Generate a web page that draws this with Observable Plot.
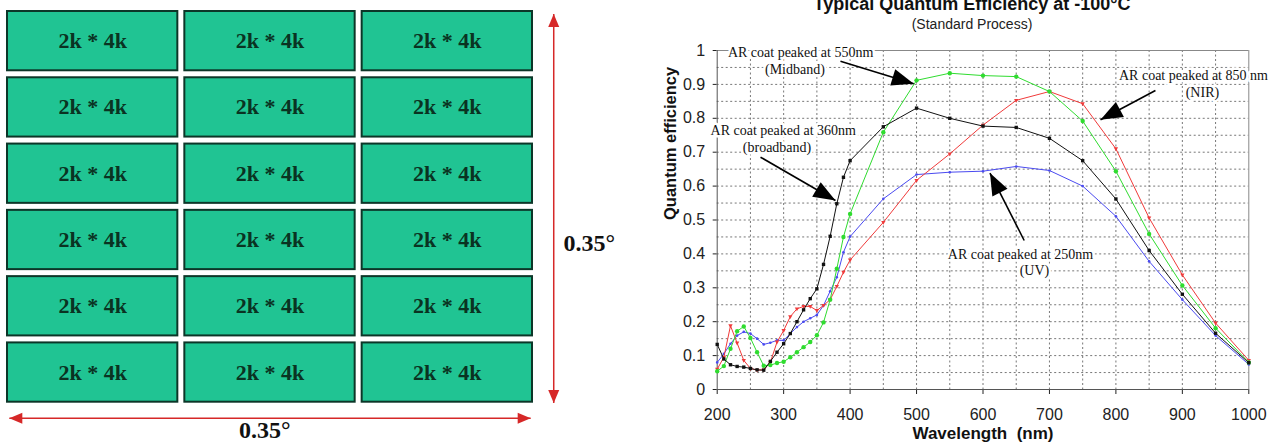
<!DOCTYPE html>
<html><head><meta charset="utf-8">
<script src="https://cdn.jsdelivr.net/npm/d3@7"></script>
<script src="https://cdn.jsdelivr.net/npm/@observablehq/plot@0.6"></script>
<style>
html,body{margin:0;padding:0;background:#fff;}
#wrap{position:relative;width:1277px;height:445px;overflow:hidden;background:#fff;}
#left{position:absolute;left:0;top:0;}
#right{position:absolute;left:640px;top:0;}
#right g[aria-label="x-axis tick label"], #right g[aria-label="y-axis tick label"]{font-size:16px;}
</style></head><body><div id="wrap"><div id="left"></div><div id="right"></div></div>
<script>
// ---------- Left panel data ----------
const mosaicCols = [0, 1, 2];
const mosaicRows = [0, 1, 2, 3, 4, 5];
const chipLabel = "2k * 4k";
const fieldLabel = "0.35°";

// ---------- Right panel data ----------
const wavelengths = [200,210,220,230,240,250,260,270,280,290,300,310,320,330,340,350,360,370,380,390,400,
  450,500,550,600,650,700,750,800,850,900,950,1000];
const qeBroadband = [0.133,0.09,0.073,0.068,0.066,0.062,0.058,0.057,0.083,0.11,0.135,0.165,0.2,0.235,0.268,0.297,0.369,0.452,0.548,0.626,0.675,
  0.775,0.83,0.80,0.777,0.773,0.741,0.675,0.562,0.41,0.281,0.166,0.079];
const qeMidband = [0.054,0.069,0.12,0.172,0.186,0.152,0.11,0.07,0.072,0.078,0.082,0.095,0.11,0.125,0.14,0.16,0.198,0.265,0.356,0.45,0.518,
  0.759,0.912,0.933,0.926,0.923,0.879,0.792,0.644,0.459,0.307,0.181,0.08];
const qeNIR = [0.06,0.095,0.188,0.137,0.086,0.062,0.057,0.058,0.08,0.14,0.174,0.215,0.238,0.245,0.245,0.233,0.248,0.265,0.304,0.346,0.382,
  0.493,0.617,0.695,0.78,0.853,0.879,0.843,0.71,0.506,0.338,0.196,0.086];
const qeUV = [0.08,0.105,0.135,0.159,0.17,0.165,0.15,0.133,0.138,0.145,0.145,0.165,0.184,0.2,0.21,0.22,0.248,0.29,0.331,0.405,0.451,
  0.5625,0.634,0.641,0.644,0.658,0.646,0.6,0.511,0.378,0.265,0.159,0.074];
const xTicks = [200,300,400,500,600,700,800,900,1000];
const xTickLabels = ["200","300","400","500","600","700","800","900","1000"];
const yTicks = [0,0.1,0.2,0.3,0.4,0.5,0.6,0.7,0.8,0.9,1];
const yTickLabels = ["0","0.1","0.2","0.3","0.4","0.5","0.6","0.7","0.8","0.9","1"];
const chartTitle = "Typical Quantum Efficiency at -100°C";
const chartSubtitle = "(Standard Process)";
const xLabel = "Wavelength\u00a0\u00a0(nm)";
const yLabel = "Quantum efficiency";
const annotations = [
  {lines: ["AR coat peaked at 550nm", "(Midband)"]},
  {lines: ["AR coat peaked at 850 nm", "(NIR)"]},
  {lines: ["AR coat peaked at 360nm", "(broadband)"]},
  {lines: ["AR coat peaked at 250nm", "(UV)"]}
];

// ---------- helpers ----------
function headSymbol(theta, L, W) {
  const c = Math.cos(theta), s = Math.sin(theta);
  return {draw(ctx) {
    const bx = -L * c, by = -L * s, px = -s * W, py = c * W;
    ctx.moveTo(0, 0); ctx.lineTo(bx + px, by + py); ctx.lineTo(bx - px, by - py); ctx.closePath();
  }};
}
const downTri = {draw(ctx, size) {
  const r = Math.sqrt(size / Math.PI) * 1.2;
  ctx.moveTo(0, r); ctx.lineTo(r * 0.9, -r * 0.6); ctx.lineTo(-r * 0.9, -r * 0.6); ctx.closePath();
}};

// ---------- Left panel ----------
const nC = mosaicCols.length, nR = mosaicRows.length;
const tiles = mosaicRows.flatMap(r => mosaicCols.map(c => ({col: c, row: r, label: chipLabel})));
const red = "#d62828";
const dimArrows = [
  {x1: nC + 0.1, y1: 0.09, x2: nC + 0.1, y2: nR - 0.04},
  {x1: 0.03, y1: nR + 0.19, x2: nC - 0.03, y2: nR + 0.19}
];
const dimHeads = [
  {x: nC + 0.1, y: 0.09, sym: headSymbol(-Math.PI / 2, 13, 5.5)},
  {x: nC + 0.1, y: nR - 0.04, sym: headSymbol(Math.PI / 2, 13, 5.5)},
  {x: 0.03, y: nR + 0.19, sym: headSymbol(Math.PI, 13, 5.5)},
  {x: nC - 0.03, y: nR + 0.19, sym: headSymbol(0, 13, 5.5)}
];
const leftPlot = Plot.plot({
  width: 640, height: 445, margin: 0,
  x: {domain: [0, nC], range: [3.5, 535.5], axis: null},
  y: {domain: [0, nR], range: [7.5, 405.2], axis: null},
  style: {background: "white", overflow: "visible"},
  marks: [
    Plot.rect(tiles, {x1: "col", x2: d => d.col + 1, y1: "row", y2: d => d.row + 1, inset: 3.5,
      fill: "#20c493", stroke: "#0c3628", strokeWidth: 2}),
    Plot.text(tiles, {x: d => d.col + 0.5, y: d => d.row + 0.5, text: "label",
      fontFamily: "Liberation Serif", fontWeight: "bold", fontSize: 22, fill: "#0a3322"}),
    Plot.link(dimArrows, {x1: "x1", y1: "y1", x2: "x2", y2: "y2", stroke: red, strokeWidth: 1.5}),
    ...dimHeads.map(h => Plot.dot([h], {x: "x", y: "y", symbol: h.sym, fill: red, stroke: "none"})),
    Plot.text([fieldLabel], {x: nC + 0.3, y: 3.55, text: d => d, fontFamily: "Liberation Serif",
      fontWeight: "bold", fontSize: 24, fill: "#111"}),
    Plot.text([fieldLabel], {x: 1.47, y: nR + 0.37, text: d => d, fontFamily: "Liberation Serif",
      fontWeight: "bold", fontSize: 24, fill: "#111"})
  ]
});
document.getElementById("left").appendChild(leftPlot);

// ---------- Right panel ----------
const W = 637, H = 445, ml = 76.7, mr = 28.7, mt = 50, mb = 56;
const xs = d3.scaleLinear([200, 1000], [ml, W - mr]);
const ys = d3.scaleLinear([0, 1], [H - mb, mt]);
const series = [
  {values: qeUV, color: "#4a4af0", symbol: "circle", r: 1.3},
  {values: qeNIR, color: "#f03a3a", symbol: downTri, r: 2},
  {values: qeMidband, color: "#2fdc2f", symbol: "circle", r: 2.2},
  {values: qeBroadband, color: "#111111", symbol: "square", r: 1.9}
];
const annotPos = [
  [{x: 325.5, y: 0.9932}, {x: 317, y: 0.944}],
  [{x: 916.7, y: 0.9263}, {x: 930.2, y: 0.877}],
  [{x: 299.4, y: 0.764}, {x: 290, y: 0.7145}],
  [{x: 656.4, y: 0.3982}, {x: 677.4, y: 0.351}]
];
const annotArrows = [
  {x1: 385.5, y1: 0.9684, x2: 495.8, y2: 0.9018},
  {x1: 859.5, y1: 0.882, x2: 776.8, y2: 0.7956},
  {x1: 265.2, y1: 0.6853, x2: 378.0, y2: 0.5575},
  {x1: 662.0, y1: 0.4395, x2: 610.5, y2: 0.6386}
];
const annotTexts = annotations.flatMap((a, i) => a.lines.map((t, j) => ({text: t, ...annotPos[i][j]})));
const gridX = d3.range(250, 1000, 50);
const gridY = d3.range(1, 20).map(i => i / 20);
const rightPlot = Plot.plot({
  width: W, height: H, marginLeft: ml, marginRight: mr, marginTop: mt, marginBottom: mb,
  style: {background: "white", fontFamily: "Liberation Sans, Arial, sans-serif", fontSize: "16px", color: "#222", overflow: "visible"},
  x: {domain: [200, 1000], ticks: xTicks, tickFormat: d => xTickLabels[xTicks.indexOf(d)], tickSize: 5, tickPadding: 14, label: null},
  y: {domain: [0, 1], ticks: yTicks, tickFormat: d => yTickLabels[yTicks.indexOf(d)], tickSize: 4, tickPadding: 8, label: null},
  marks: [
    Plot.ruleX(gridX, {stroke: "#777", strokeDasharray: "2,2.5"}),
    Plot.ruleY(gridY, {stroke: "#777", strokeDasharray: "2,2.5"}),
    Plot.ruleY([1], {stroke: "#888"}),
    Plot.ruleX([1000], {stroke: "#888"}),
    Plot.ruleX([200], {stroke: "#555"}),
    Plot.ruleY([0], {stroke: "#555"}),
    ...series.flatMap(s => [
      Plot.line(s.values, {x: (d, i) => wavelengths[i], y: d => d, stroke: s.color, strokeWidth: 1}),
      Plot.dot(s.values, {x: (d, i) => wavelengths[i], y: d => d, symbol: s.symbol, r: s.r, fill: s.color, stroke: "none"})
    ]),
    Plot.text(annotTexts, {x: "x", y: "y", text: "text", fontFamily: "Liberation Serif", fontSize: 14,
      fill: "#111", stroke: "white", strokeWidth: 5, paintOrder: "stroke"}),
    Plot.link(annotArrows, {x1: "x1", y1: "y1", x2: "x2", y2: "y2", stroke: "#000", strokeWidth: 1.6}),
    ...annotArrows.map(a => {
      const th = Math.atan2(ys(a.y2) - ys(a.y1), xs(a.x2) - xs(a.x1));
      return Plot.dot([a], {x: "x2", y: "y2", symbol: headSymbol(th, 22, 8.5), fill: "#000", stroke: "none"});
    }),
    Plot.text([chartTitle], {frameAnchor: "top", text: d => d, lineAnchor: "middle", dy: -46, dx: -11,
      fontSize: 18, fontWeight: "bold", fill: "#111"}),
    Plot.text([chartSubtitle], {frameAnchor: "top", text: d => d, lineAnchor: "middle", dy: -26, dx: -11,
      fontSize: 14, fill: "#222"}),
    Plot.text([xLabel], {frameAnchor: "bottom", text: d => d, lineAnchor: "middle", dy: 44,
      fontSize: 17, fontWeight: "bold", fill: "#111"}),
    Plot.text([yLabel], {frameAnchor: "left", text: d => d, lineAnchor: "middle", rotate: -90, dx: -46,
      fontSize: 16.5, fontWeight: "bold", fill: "#111"})
  ]
});
document.getElementById("right").appendChild(rightPlot);
</script></body></html>
